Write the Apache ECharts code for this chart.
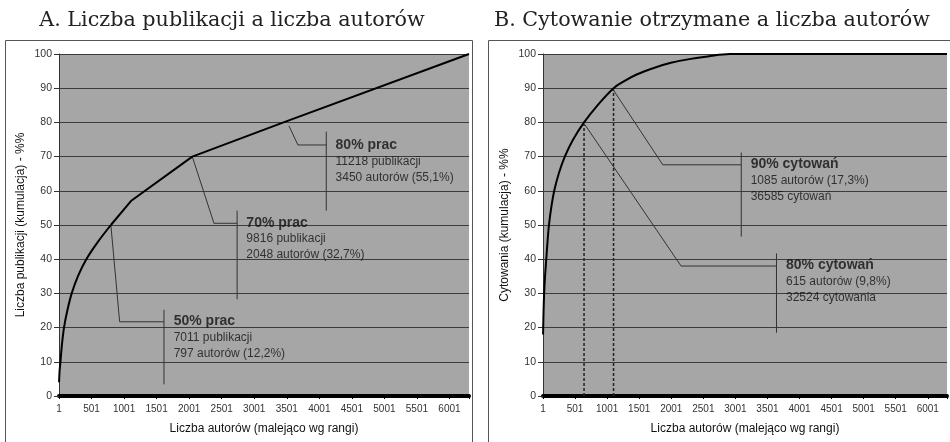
<!DOCTYPE html>
<html>
<head>
<meta charset="utf-8">
<title>Publikacje i cytowania a liczba autorów</title>
<script src="https://cdn.jsdelivr.net/npm/echarts@6.0.0/dist/echarts.min.js"></script>
<style>
  html, body { margin: 0; padding: 0; background: #fff; }
  #chart { width: 950px; height: 442px; }
</style>
</head>
<body>
<div id="chart"></div>
<script>
// A. skumulowany % publikacji wg liczby autorów
var pubAuthors = [1, 8, 22, 45, 77, 128, 195, 290, 420, 595, 797, 1105, 2048, 3450, 6300];
var pubPercent = [4, 7, 10, 15, 20, 25, 30, 35, 40, 45, 50, 57, 70, 80, 100];
var PUB_CURVED = 11; // pierwsze punkty rysowane gładko, dalej odcinki

// B. skumulowany % cytowań wg liczby autorów
var citAuthors = [1, 9, 18, 32, 51, 70, 93, 128, 175, 245, 340, 470, 640, 850, 1100, 1260, 1460, 1740, 2010, 2280, 2570, 2912, 6300];
var citPercent = [18, 25, 30, 35, 40, 45, 50, 55, 60, 65, 70, 75, 80, 85, 90, 92, 94, 96, 97.5, 98.5, 99.3, 100, 100];

var xTickLabels = ['1', '501', '1001', '1501', '2001', '2501', '3001', '3501', '4001', '4501', '5001', '5501', '6001'];
var yTickLabels = ['0', '10', '20', '30', '40', '50', '60', '70', '80', '90', '100'];

// opisy (tytuł + dwie linie)
var notesA = [
  ['50% prac', '7011 publikacji', '797 autorów (12,2%)'],
  ['70% prac', '9816 publikacji', '2048 autorów (32,7%)'],
  ['80% prac', '11218 publikacji', '3450 autorów (55,1%)']
];
var notesB = [
  ['90% cytowań', '1085 autorów (17,3%)', '36585 cytowań'],
  ['80% cytowań', '615 autorów (9,8%)', '32524 cytowania']
];

// linie odnośników, w jednostkach osi [autorzy, %]
var leadersA = [
  [[797, 50], [932, 21.7], [1613, 21.7]],
  [[1613, 25.2], [1613, 3.4]],
  [[2048, 70], [2381, 50.5], [2737, 50.5]],
  [[2737, 54.2], [2737, 28.3]],
  [[3533, 79], [3671, 73.4], [4107, 73.4]],
  [[4107, 77.3], [4107, 54.2]]
];
var notePosA = [[1762, 17.3], [2879, 46.0], [4250, 68.8]];

var leadersB = [
  [[1100, 89.4], [1868, 67.6], [3092, 67.6]],
  [[3092, 71.2], [3092, 46.6]],
  [[655, 79.3], [2153, 38], [3641, 38]],
  [[3641, 41.7], [3641, 18.5]]
];
var dashesB = [
  [[640, 0], [640, 79.5]],
  [[1100, 0], [1100, 89.6]]
];
var notePosB = [[3238, 63.2], [3789, 33.7]];

var X_MAX = 6300;

function zip(xs, ys) {
  return xs.map(function (x, i) { return [x, ys[i]]; });
}

function makeXAxis(grid) {
  return {
    type: 'value',
    gridIndex: grid,
    min: 0,
    max: X_MAX,
    interval: 500,
    name: 'Liczba autorów (malejąco wg rangi)',
    nameLocation: 'middle',
    nameGap: 27,
    nameTextStyle: { color: '#111', fontSize: 12, fontFamily: 'Liberation Sans' },
    axisLine: { show: true, onZero: false, lineStyle: { color: '#000', width: 4 } },
    axisTick: { show: true, length: 3, lineStyle: { color: '#000' } },
    axisLabel: {
      color: '#333', fontSize: 10, fontFamily: 'Liberation Sans', margin: 8,
      formatter: function (v) { return v % 500 === 0 ? xTickLabels[v / 500] : ''; }
    },
    splitLine: { show: false }
  };
}

function makeYAxis(grid, name) {
  return {
    type: 'value',
    gridIndex: grid,
    min: 0,
    max: 100,
    interval: 10,
    name: name,
    nameLocation: 'middle',
    nameGap: 32,
    nameTextStyle: { color: '#111', fontSize: 12, fontFamily: 'Liberation Sans' },
    axisLine: { show: true, lineStyle: { color: '#333', width: 1 } },
    axisTick: { show: true, length: 5, lineStyle: { color: '#333' } },
    axisLabel: {
      color: '#333', fontSize: 10.5, fontFamily: 'Liberation Sans', margin: 7,
      formatter: function (v) { return yTickLabels[v / 10]; }
    },
    splitLine: { show: true, lineStyle: { color: '#3c3c3c', width: 1 } }
  };
}

function leader(grid, pts, dashed) {
  return {
    type: 'line',
    xAxisIndex: grid,
    yAxisIndex: grid,
    data: pts,
    symbol: 'none',
    silent: true,
    z: 3,
    lineStyle: dashed
      ? { color: '#222', width: 1.5, type: [3, 2] }
      : { color: '#333', width: 1 }
  };
}

function note(grid, pos, lines) {
  return {
    type: 'scatter',
    xAxisIndex: grid,
    yAxisIndex: grid,
    data: [pos],
    symbolSize: 0,
    silent: true,
    z: 5,
    label: {
      show: true,
      position: 'right',
      distance: 0,
      fontFamily: 'Liberation Sans',
      formatter: '{b|' + lines[0] + '}\n{n|' + lines[1] + '}\n{n|' + lines[2] + '}',
      rich: {
        b: { fontWeight: 'bold', fontSize: 14, lineHeight: 17, color: '#111', fontFamily: 'Liberation Sans' },
        n: { fontSize: 12, lineHeight: 16, color: '#111', fontFamily: 'Liberation Sans' }
      }
    }
  };
}

var pubData = zip(pubAuthors, pubPercent);
var series = [];
// A: część zakrzywiona
series.push({
  type: 'line', xAxisIndex: 0, yAxisIndex: 0,
  data: pubData.slice(0, PUB_CURVED),
  symbol: 'none', z: 4, smooth: 0.35,
  lineStyle: { color: '#000', width: 2 }
});
// A: odcinki proste
series.push({
  type: 'line', xAxisIndex: 0, yAxisIndex: 0,
  data: pubData.slice(PUB_CURVED - 1),
  symbol: 'none', z: 4,
  lineStyle: { color: '#000', width: 2 }
});
series.push({
  type: 'line', xAxisIndex: 1, yAxisIndex: 1,
  data: zip(citAuthors, citPercent),
  symbol: 'none', z: 4, smooth: 0.35,
  lineStyle: { color: '#000', width: 2 }
});
leadersA.forEach(function (p) { series.push(leader(0, p, false)); });
leadersB.forEach(function (p) { series.push(leader(1, p, false)); });
dashesB.forEach(function (p) { series.push(leader(1, p, true)); });
notesA.forEach(function (n, i) { series.push(note(0, notePosA[i], n)); });
notesB.forEach(function (n, i) { series.push(note(1, notePosB[i], n)); });

var chart = echarts.init(document.getElementById('chart'));
chart.setOption({
  animation: false,
  backgroundColor: '#fff',
  graphic: [
    { type: 'rect', shape: { x: 5.5, y: 40.5, width: 467, height: 430 }, style: { fill: 'none', stroke: '#555', lineWidth: 1 } },
    { type: 'rect', shape: { x: 488.5, y: 40.5, width: 480, height: 430 }, style: { fill: 'none', stroke: '#555', lineWidth: 1 } },
    { type: 'text', x: 232, y: 21, style: { text: 'A. Liczba publikacji a liczba autorów', align: 'center', verticalAlign: 'middle', fontSize: 20.7, fontFamily: 'DejaVu Serif', fill: '#222' } },
    { type: 'text', x: 712, y: 21, style: { text: 'B. Cytowanie otrzymane a liczba autorów', align: 'center', verticalAlign: 'middle', fontSize: 20.7, fontFamily: 'DejaVu Serif', fill: '#222' } }
  ],
  grid: [
    { left: 59, top: 54, width: 410, height: 342, show: true, backgroundColor: '#a6a6a6', borderWidth: 0 },
    { left: 543, top: 54, width: 407, height: 342, show: true, backgroundColor: '#a6a6a6', borderWidth: 0 }
  ],
  xAxis: [makeXAxis(0), makeXAxis(1)],
  yAxis: [
    makeYAxis(0, 'Liczba publikacji (kumulacja) - %%'),
    makeYAxis(1, 'Cytowania (kumulacja) - %%')
  ],
  series: series
});
</script>
</body>
</html>
